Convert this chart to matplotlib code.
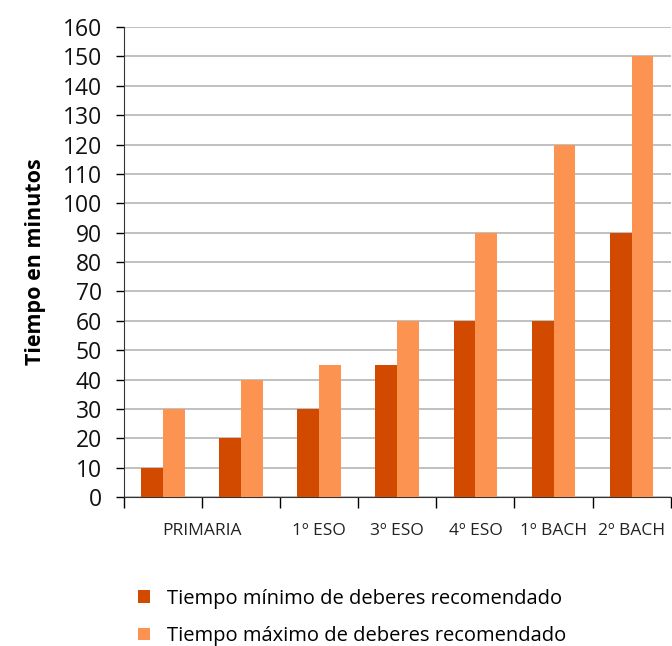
import matplotlib
matplotlib.use("Agg")
import matplotlib.pyplot as plt
import numpy as np

plt.rcParams['font.family'] = ['Open Sans', 'DejaVu Sans']

# one group per course; the first two both belong to PRIMARIA
grupos = ["PRIMARIA a", "PRIMARIA b", "1º ESO", "3º ESO", "4º ESO", "1º BACH", "2º BACH"]
etiquetas = ["PRIMARIA", "1º ESO", "3º ESO", "4º ESO", "1º BACH", "2º BACH"]
minimo = [10, 20, 30, 45, 60, 60, 90]
maximo = [30, 40, 45, 60, 90, 120, 150]

c_min = "#d24a00"
c_max = "#fd9350"

fig = plt.figure(figsize=(6.72, 6.46), dpi=100)
ax = fig.add_axes([0.1845, 0.2307, 0.8135, 0.7273])

x = np.arange(len(grupos))
w = 0.28
ax.bar(x - w / 2, minimo, w, color=c_min, label="Tiempo mínimo de deberes recomendado", zorder=3)
ax.bar(x + w / 2, maximo, w, color=c_max, label="Tiempo máximo de deberes recomendado", zorder=3)

ax.set_xlim(-0.5, len(grupos) - 0.5)
ax.set_ylim(0, 160)
ax.set_yticks(range(0, 161, 10))
ax.tick_params(axis='y', labelsize=16.5, length=6, width=1, pad=10, labelcolor="#111111")
ax.yaxis.grid(True, color="#b5b5b5", linewidth=1.2, zorder=0)

# tick marks at group boundaries, labels centered (PRIMARIA spans two groups)
ax.set_xticks(np.arange(len(grupos) + 1) - 0.5)
ax.set_xticklabels([])
ax.tick_params(axis='x', length=8, width=1)
pos = [0.5] + list(x[2:])
for p, t in zip(pos, etiquetas):
    ax.text(p, -0.072, t, transform=ax.get_xaxis_transform(), ha='center', va='center',
            fontsize=12.5, color="#222222")

for s in ["top", "right"]:
    ax.spines[s].set_visible(False)
ax.spines["left"].set_color("#333333")
ax.spines["bottom"].set_color("#333333")

ax.set_ylabel("Tiempo en minutos", fontsize=15.5, fontweight='bold', labelpad=12)

fig.legend(loc='upper left', bbox_to_anchor=(0.19, 0.104), frameon=False, fontsize=14.5,
           handlelength=0.6, handleheight=0.6, labelspacing=0.85, handletextpad=0.85,
           borderpad=0)

fig.savefig("out.png", dpi=100)
